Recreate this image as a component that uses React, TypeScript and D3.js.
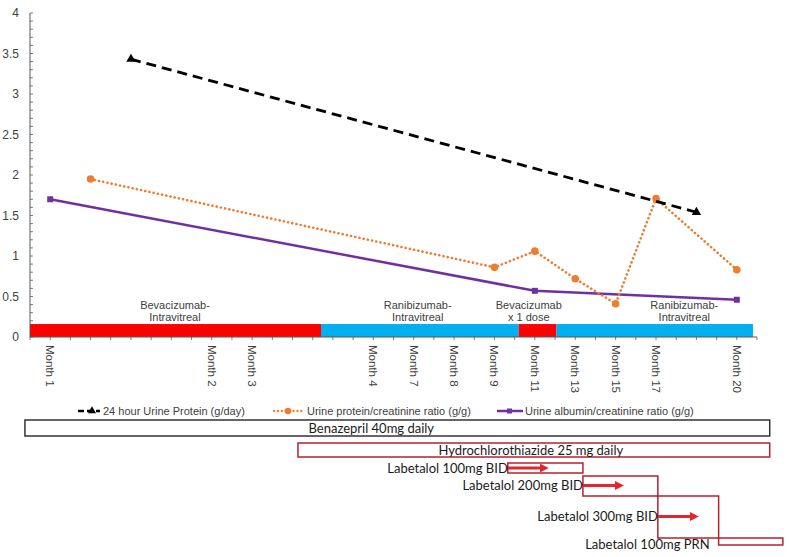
import * as d3 from 'd3';
import React from 'react';

// category slots along the x axis (blank = unlabeled visit)
const monthLabels = ['', 'Month 1', '', '', '', '', '', '', '', 'Month 2', '', 'Month 3', '', '', '', '', '', 'Month 4', '',
    'Month 7', '', 'Month 8', '', 'Month 9', '', 'Month 11', '', 'Month 13', '', 'Month 15', '', 'Month 17', '', '', '',
    'Month 20', ''];

// [slot, value]
const urineProtein24h: Array<[number, number]> = [[5, 3.43], [33, 1.54]];
const proteinCreatinine: Array<[number, number]> = [[3, 1.95], [23, 0.86], [25, 1.06], [27, 0.72], [29, 0.41], [31, 1.71], [35, 0.83]];
const albuminCreatinine: Array<[number, number]> = [[1, 1.70], [25, 0.57], [35, 0.46]];

// intravitreal treatment periods [from slot, to slot, drug]
const treatmentPeriods: Array<[number, number, string]> = [
    [0, 14.41, 'bev'], [14.41, 24.2, 'ran'], [24.2, 26.07, 'bev'], [26.07, 35.8, 'ran']];
const treatmentLabels: Array<[number, string, string]> = [
    [7.18, 'Bevacizumab-', 'Intravitreal'], [19.2, 'Ranibizumab-', 'Intravitreal'],
    [24.7, 'Bevacizumab', 'x 1 dose'], [32.4, 'Ranibizumab-', 'Intravitreal']];
const barHeight = 0.16;

// oral meds [label, from slot, to slot, text centre slot]
const benazepril = ['Benazepril 40mg daily', -0.25, 36.63, 16.9];
const hctz = ['Hydrochlorothiazide 25 mg daily', 13.27, 36.63, 24.8];
const labetalol: Array<[string, number, number]> = [
    ['Labetalol 100mg BID', 23.66, 27.38], ['Labetalol 200mg BID', 27.38, 31.09],
    ['Labetalol 300mg BID', 31.09, 34.1], ['Labetalol 100mg PRN', 34.1, 37.28]];

const legendItems = ['24 hour Urine Protein (g/day)', 'Urine protein/creatinine ratio (g/g)', 'Urine albumin/creatinine ratio (g/g)'];

const W = 789, H = 557;
const axisGrey = '#595959';
const textGrey = '#404040';
const orange = '#ED7D31';
const purple = '#7030A0';
const medRed = '#B8202E';
const arrowRed = '#E3262E';

export default () => {
    const x = d3.scaleLinear().domain([0, monthLabels.length - 1]).range([30, 757]);
    const y = d3.scaleLinear().domain([0, 4]).range([337, 13]);

    const line = d3.line<[number, number]>().x(d => x(d[0])).y(d => y(d[1]));
    const tri = d3.symbol(d3.symbolTriangle, 38)() as string;
    const minor = d3.range(0, 41).map(i => i / 10);
    const major = d3.range(0, 9).map(i => i / 2);

    // rows for the med boxes (layout)
    const labRows = [[463, 473], [476, 496], [496, 538], [538, 545]];

    return (
        <div style={{ position: 'absolute', left: 0, top: 0 }}>
            <svg width={W} height={H} style={{ display: 'block', background: '#fff' }}>
                <defs>
                    <marker id="arr" viewBox="0 0 10 10" refX="6" refY="5" markerWidth="3" markerHeight="3" orient="auto">
                        <path d="M0,0 L10,5 L0,10 z" fill={arrowRed} />
                    </marker>
                </defs>

                {/* treatment bars */}
                {treatmentPeriods.map((t, i) => (
                    <rect key={i} x={x(t[0])} y={y(barHeight)} width={x(t[1]) - x(t[0])} height={y(0) - y(barHeight)}
                        fill={t[2] === 'bev' ? '#FF0000' : '#00B0F0'} />
                ))}
                <g fontFamily="Liberation Sans, Arial" fontSize={11} fill={textGrey} textAnchor="middle">
                    {treatmentLabels.map((t, i) => (
                        <g key={i}>
                            <text x={x(t[0])} y={308.5}>{t[1]}</text>
                            <text x={x(t[0])} y={321}>{t[2]}</text>
                        </g>
                    ))}
                </g>

                {/* y axis */}
                <line x1={30} x2={30} y1={y(4)} y2={y(0)} stroke={axisGrey} strokeWidth={1} />
                {minor.map((v, i) => (
                    <line key={i} x1={30} x2={33} y1={y(v)} y2={y(v)} stroke={axisGrey} strokeWidth={0.8} />
                ))}
                <g fontFamily="Liberation Sans, Arial" fontSize={12} fill={textGrey} textAnchor="end">
                    {major.map((v, i) => (
                        <text key={i} x={19} y={y(v) + 4}>{String(v)}</text>
                    ))}
                </g>

                {/* x axis */}
                <line x1={x(0)} x2={x(monthLabels.length - 1)} y1={y(0)} y2={y(0)} stroke={axisGrey} strokeWidth={1} />
                {monthLabels.map((m, i) => (
                    <line key={i} x1={x(i)} x2={x(i)} y1={y(0)} y2={y(0) + 3} stroke={axisGrey} strokeWidth={0.8} />
                ))}
                <g fontFamily="Liberation Sans, Arial" fontSize={11.5} fill={textGrey}>
                    {monthLabels.map((m, i) => m && (
                        <text key={i} transform={`translate(${x(i) - 4},345) rotate(90)`}>{m}</text>
                    ))}
                </g>

                {/* series */}
                <path d={line(albuminCreatinine) as string} fill="none" stroke={purple} strokeWidth={2.5} />
                {albuminCreatinine.map((d, i) => (
                    <rect key={i} x={x(d[0]) - 3} y={y(d[1]) - 3} width={6} height={6} fill={purple} />
                ))}
                <path d={line(proteinCreatinine) as string} fill="none" stroke={orange} strokeWidth={2.6}
                    strokeDasharray="0.1 4.2" strokeLinecap="round" />
                {proteinCreatinine.map((d, i) => (
                    <circle key={i} cx={x(d[0])} cy={y(d[1])} r={3.8} fill={orange} />
                ))}
                <path d={line(urineProtein24h) as string} fill="none" stroke="#000" strokeWidth={2.8} strokeDasharray="10 6" />
                {urineProtein24h.map((d, i) => (
                    <path key={i} d={tri} transform={`translate(${x(d[0])},${y(d[1])})`} fill="#000" />
                ))}

                {/* legend */}
                <g fontFamily="Liberation Sans, Arial" fontSize={11} fill={textGrey}>
                    <line x1={78} x2={100} y1={411} y2={411} stroke="#000" strokeWidth={2.5} strokeDasharray="6 3" />
                    <path d={d3.symbol(d3.symbolTriangle, 28)() as string} transform="translate(92,411)" fill="#000" />
                    <text x={103} y={415}>{legendItems[0]}</text>
                    <line x1={274} x2={302} y1={411} y2={411} stroke={orange} strokeWidth={2.3} strokeDasharray="0.1 3.8" strokeLinecap="round" />
                    <circle cx={288} cy={411} r={3.3} fill={orange} />
                    <text x={307} y={415}>{legendItems[1]}</text>
                    <line x1={497} x2={523} y1={411} y2={411} stroke={purple} strokeWidth={2.5} />
                    <rect x={507} y={408.5} width={5} height={5} fill={purple} />
                    <text x={525} y={415}>{legendItems[2]}</text>
                </g>

                {/* oral medications */}
                <g fontFamily="Lato, Open Sans, sans-serif" fontSize={13} fill="#1a1a1a">
                    <rect x={x(benazepril[1] as number)} y={420} width={x(benazepril[2] as number) - x(benazepril[1] as number)} height={16}
                        fill="none" stroke="#333" strokeWidth={1.5} />
                    <text x={x(benazepril[3] as number)} y={432.5} textAnchor="middle">{benazepril[0]}</text>
                    <rect x={x(hctz[1] as number)} y={443} width={x(hctz[2] as number) - x(hctz[1] as number)} height={14}
                        fill="none" stroke={medRed} strokeWidth={1.5} />
                    <text x={x(hctz[3] as number)} y={454.5} textAnchor="middle">{hctz[0]}</text>
                    {labetalol.map((l, i) => {
                        const [t, b] = labRows[i];
                        return (
                            <g key={i}>
                                <rect x={x(l[1])} y={t} width={x(l[2]) - x(l[1])} height={b - t}
                                    fill="none" stroke={medRed} strokeWidth={1.5} />
                                {i < 3 && (
                                    <line x1={x(l[1])} x2={x(l[1] + 1.85)} y1={i === 0 ? 468 : i === 1 ? 485.5 : 516.5} y2={i === 0 ? 468 : i === 1 ? 485.5 : 516.5}
                                        stroke={arrowRed} strokeWidth={3} markerEnd="url(#arr)" />
                                )}
                                <text x={i < 3 ? x(l[1]) : x(l[1]) - 9} y={i === 0 ? 472.5 : i === 1 ? 490 : i === 2 ? 521 : 548.5} textAnchor="end">{l[0]}</text>
                            </g>
                        );
                    })}
                </g>
            </svg>
        </div>
    );
};
